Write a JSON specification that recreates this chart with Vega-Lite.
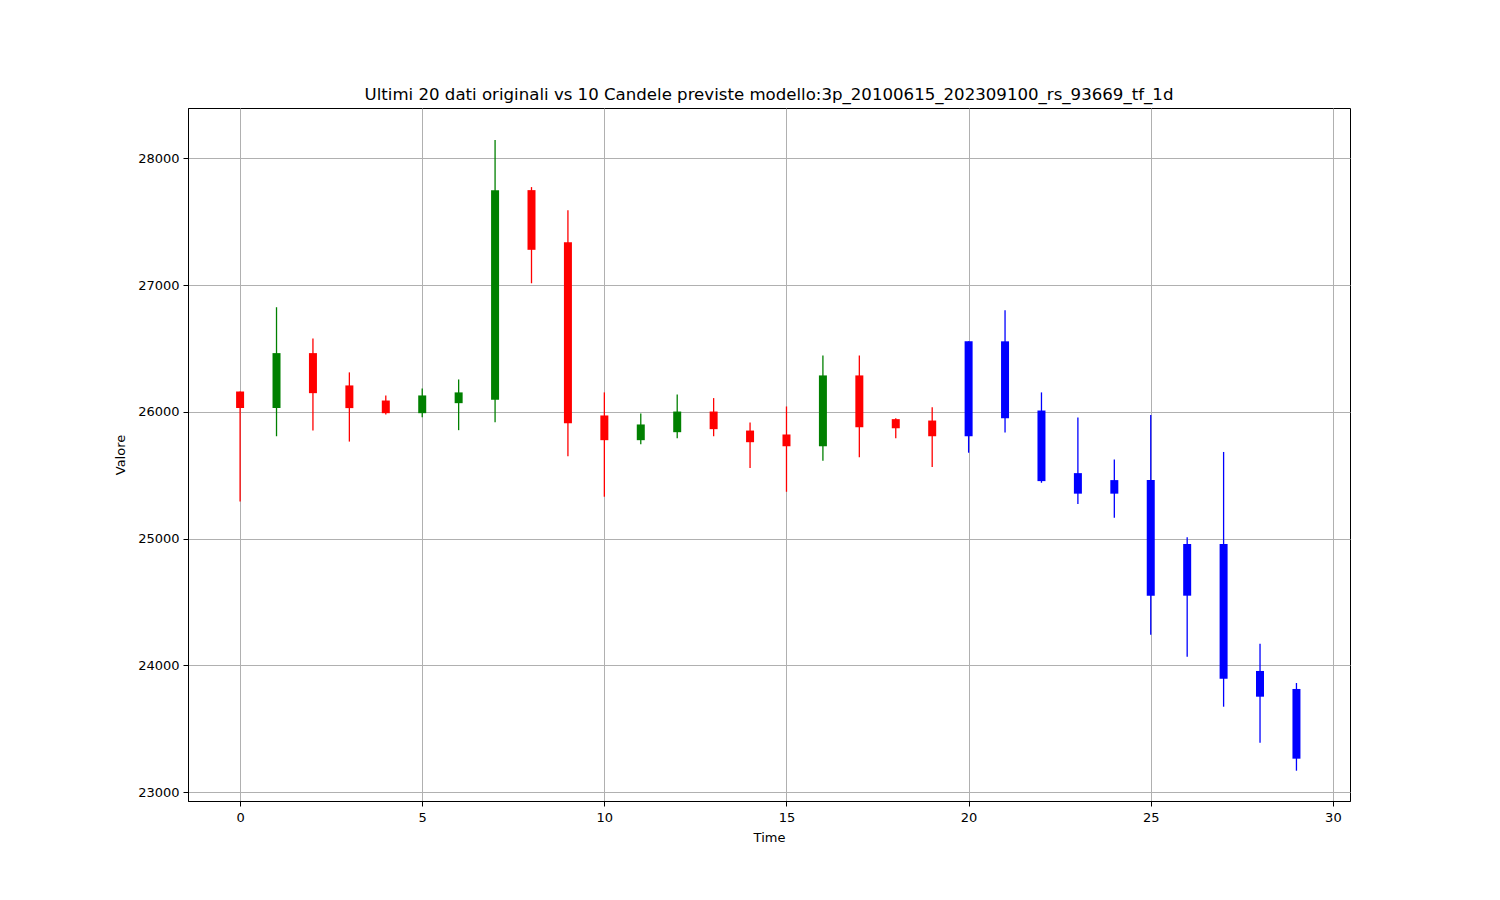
{
  "$schema": "https://vega.github.io/schema/vega-lite/v6.json",
  "autosize": {"type": "none"},
  "padding": {"left": 188, "top": 108, "right": 150, "bottom": 99},
  "width": 1162,
  "height": 693,
  "background": "white",
  "title": {"text": "Ultimi 20 dati originali vs 10 Candele previste modello:3p_20100615_202309100_rs_93669_tf_1d", "font": "DejaVu Sans", "fontSize": 16.6, "fontWeight": "normal", "color": "black", "offset": 4},
  "config": {
    "view": {"stroke": "black", "strokeWidth": 1},
    "axis": {"domainColor": "black", "tickColor": "black", "tickSize": 5, "labelFont": "DejaVu Sans", "labelFontSize": 13, "labelColor": "black", "titleFont": "DejaVu Sans", "titleFontSize": 13, "titleFontWeight": "normal", "titleColor": "black", "gridColor": "#b0b0b0", "gridWidth": 1, "labelPadding": 4}
  },
  "data": {"values": [
    {"t": 0, "open": 26160, "close": 26030, "high": 26160, "low": 25293, "kind": "down"},
    {"t": 1, "open": 26030, "close": 26463, "high": 26825, "low": 25807, "kind": "up"},
    {"t": 2, "open": 26463, "close": 26147, "high": 26579, "low": 25852, "kind": "down"},
    {"t": 3, "open": 26208, "close": 26029, "high": 26311, "low": 25765, "kind": "down"},
    {"t": 4, "open": 26089, "close": 25989, "high": 26129, "low": 25979, "kind": "down"},
    {"t": 5, "open": 25989, "close": 26129, "high": 26184, "low": 25957, "kind": "up"},
    {"t": 6, "open": 26068, "close": 26153, "high": 26255, "low": 25855, "kind": "up"},
    {"t": 7, "open": 26095, "close": 27749, "high": 28145, "low": 25918, "kind": "up"},
    {"t": 8, "open": 27749, "close": 27278, "high": 27773, "low": 27014, "kind": "down"},
    {"t": 9, "open": 27338, "close": 25910, "high": 27591, "low": 25649, "kind": "down"},
    {"t": 10, "open": 25971, "close": 25776, "high": 26153, "low": 25330, "kind": "down"},
    {"t": 11, "open": 25776, "close": 25900, "high": 25987, "low": 25744, "kind": "up"},
    {"t": 12, "open": 25839, "close": 26002, "high": 26137, "low": 25791, "kind": "up"},
    {"t": 13, "open": 26002, "close": 25863, "high": 26108, "low": 25807, "kind": "down"},
    {"t": 14, "open": 25852, "close": 25760, "high": 25915, "low": 25557, "kind": "down"},
    {"t": 15, "open": 25821, "close": 25728, "high": 26042, "low": 25369, "kind": "down"},
    {"t": 16, "open": 25728, "close": 26287, "high": 26445, "low": 25613, "kind": "up"},
    {"t": 17, "open": 26287, "close": 25878, "high": 26445, "low": 25642, "kind": "down"},
    {"t": 18, "open": 25942, "close": 25870, "high": 25949, "low": 25791, "kind": "down"},
    {"t": 19, "open": 25931, "close": 25807, "high": 26036, "low": 25565, "kind": "down"},
    {"t": 20, "open": 25807, "close": 26556, "high": 26556, "low": 25677, "kind": "forecast"},
    {"t": 21, "open": 26556, "close": 25949, "high": 26801, "low": 25836, "kind": "forecast"},
    {"t": 22, "open": 26010, "close": 25453, "high": 26153, "low": 25440, "kind": "forecast"},
    {"t": 23, "open": 25516, "close": 25354, "high": 25955, "low": 25272, "kind": "forecast"},
    {"t": 24, "open": 25461, "close": 25354, "high": 25623, "low": 25164, "kind": "forecast"},
    {"t": 25, "open": 25461, "close": 24549, "high": 25975, "low": 24241, "kind": "forecast"},
    {"t": 26, "open": 24957, "close": 24549, "high": 25011, "low": 24068, "kind": "forecast"},
    {"t": 27, "open": 24957, "close": 23894, "high": 25683, "low": 23673, "kind": "forecast"},
    {"t": 28, "open": 23955, "close": 23752, "high": 24170, "low": 23388, "kind": "forecast"},
    {"t": 29, "open": 23813, "close": 23263, "high": 23860, "low": 23168, "kind": "forecast"}
  ]},
  "encoding": {
    "x": {"field": "t", "type": "quantitative", "scale": {"domain": [-1.43, 30.47], "nice": false, "zero": false, "padding": 0},
      "axis": {"values": [0, 5, 10, 15, 20, 25, 30], "title": "Time", "titlePadding": 7, "labelPadding": 5, "grid": true}},
    "color": {"field": "kind", "type": "nominal", "scale": {"domain": ["up", "down", "forecast"], "range": ["#008000", "#ff0000", "#0000ff"]}, "legend": null}
  },
  "layer": [
    {
      "mark": {"type": "rule", "strokeWidth": 1.3},
      "encoding": {
        "y": {"field": "low", "type": "quantitative", "scale": {"domain": [22929, 28397], "nice": false, "zero": false, "padding": 0},
          "axis": {"values": [23000, 24000, 25000, 26000, 27000, 28000], "format": "d", "title": "Valore", "titlePadding": 10, "grid": true}},
        "y2": {"field": "high"}
      }
    },
    {
      "mark": {"type": "bar", "size": 8},
      "encoding": {
        "y": {"field": "open", "type": "quantitative"},
        "y2": {"field": "close"}
      }
    }
  ]
}
